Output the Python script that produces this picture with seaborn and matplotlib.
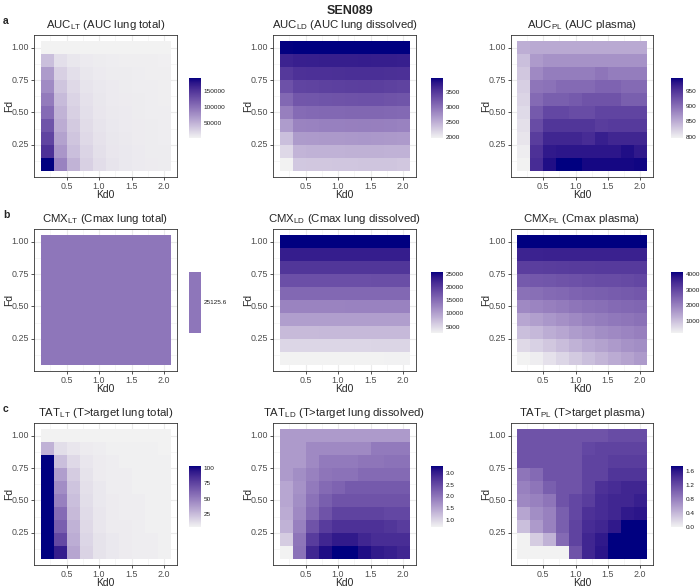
import numpy as np
import matplotlib
matplotlib.use("Agg")
import matplotlib.pyplot as plt
import seaborn as sns
from matplotlib.colors import ListedColormap, to_rgb
from matplotlib.ticker import FixedLocator, FormatStrFormatter

# ---------------- data (rows: Fd 0.1 -> 1.0, columns: Kd0 0.2 -> 2.0) ----------------
kd0 = [0.2, 0.4, 0.6, 0.8, 1.0, 1.2, 1.4, 1.6, 1.8, 2.0]
fd = [0.1, 0.2, 0.3, 0.4, 0.5, 0.6, 0.7, 0.8, 0.9, 1.0]

auc_lt = [
    [190000, 86000, 49000, 28000, 18000, 13000, 10500, 9000, 8000, 7200],
    [152000, 71000, 40000, 25000, 16000, 12000, 10000, 8500, 7600, 7000],
    [137000, 62000, 36000, 21000, 14500, 11000, 9500, 8000, 7300, 6800],
    [124000, 54000, 32000, 19000, 13000, 10000, 9000, 7800, 7000, 6500],
    [105000, 49000, 28000, 17000, 12000, 9500, 8500, 7500, 6800, 6300],
    [92000, 43000, 25000, 15000, 11000, 9000, 8000, 7000, 6500, 6100],
    [80000, 36000, 21000, 13000, 10000, 8500, 7500, 6800, 6300, 5900],
    [67000, 28000, 17000, 11000, 9000, 7500, 7000, 6500, 6000, 5700],
    [40000, 17000, 11000, 9000, 7500, 6500, 6000, 6000, 5500, 5400],
    [2500, 2500, 2500, 2500, 2500, 2500, 2500, 2500, 2500, 2500],
]
auc_ld = [
    [1955, 2290, 2300, 2300, 2305, 2305, 2310, 2310, 2310, 2300],
    [2160, 2450, 2460, 2460, 2465, 2470, 2470, 2470, 2465, 2460],
    [2360, 2650, 2660, 2665, 2670, 2675, 2680, 2675, 2670, 2660],
    [2640, 2850, 2860, 2870, 2875, 2880, 2885, 2880, 2870, 2860],
    [2880, 3055, 3065, 3075, 3080, 3090, 3095, 3090, 3080, 3065],
    [3085, 3235, 3245, 3255, 3265, 3275, 3285, 3280, 3265, 3250],
    [3285, 3400, 3410, 3420, 3430, 3440, 3445, 3440, 3425, 3410],
    [3490, 3565, 3570, 3575, 3580, 3585, 3590, 3585, 3580, 3570],
    [3690, 3725, 3730, 3735, 3740, 3740, 3745, 3740, 3735, 3730],
    [3960, 3970, 3970, 3970, 3970, 3970, 3970, 3970, 3970, 3970],
]
auc_pl = [
    [796, 956, 981, 991, 991, 985, 985, 985, 985, 987],
    [800, 952, 972, 975, 975, 975, 975, 975, 981, 972],
    [806, 942, 962, 962, 962, 956, 968, 962, 962, 962],
    [810, 929, 948, 948, 948, 948, 942, 944, 944, 944],
    [815, 917, 933, 933, 929, 929, 936, 936, 936, 936],
    [819, 903, 913, 913, 917, 923, 923, 923, 913, 913],
    [823, 894, 897, 903, 903, 903, 909, 909, 903, 903],
    [829, 878, 888, 888, 888, 888, 894, 888, 888, 888],
    [835, 864, 870, 870, 870, 870, 870, 870, 870, 870],
    [848, 852, 852, 852, 852, 852, 852, 852, 852, 852],
]
cmx_lt_value = 25125.6
cmx_ld = [
    [2567, 2570, 2580, 2590, 2600, 2610, 2630, 2650, 2680, 2700],
    [5130, 5135, 5140, 5150, 5160, 5170, 5180, 5190, 5200, 5210],
    [7700, 7705, 7710, 7715, 7720, 7730, 7740, 7750, 7760, 7770],
    [10270, 10275, 10280, 10285, 10290, 10295, 10300, 10305, 10310, 10315],
    [12840, 12840, 12845, 12850, 12855, 12860, 12865, 12870, 12875, 12880],
    [15400, 15400, 15405, 15410, 15415, 15420, 15425, 15430, 15435, 15440],
    [17970, 17970, 17975, 17980, 17985, 17990, 17995, 18000, 18005, 18010],
    [20540, 20540, 20545, 20550, 20555, 20560, 20565, 20570, 20575, 20580],
    [23100, 23100, 23105, 23110, 23115, 23120, 23125, 23130, 23135, 23140],
    [25670, 25670, 25670, 25670, 25670, 25670, 25670, 25670, 25670, 25670],
]
cmx_pl = [
    [200, 280, 475, 635, 830, 990, 1150, 1305, 1425, 1580],
    [595, 715, 870, 1030, 1190, 1345, 1465, 1580, 1700, 1780],
    [990, 1110, 1265, 1385, 1545, 1660, 1780, 1860, 1940, 2015],
    [1385, 1505, 1620, 1740, 1860, 1980, 2055, 2135, 2175, 2255],
    [1860, 1940, 2015, 2095, 2175, 2255, 2295, 2375, 2410, 2450],
    [2255, 2295, 2375, 2410, 2490, 2530, 2570, 2610, 2650, 2690],
    [2650, 2690, 2730, 2770, 2805, 2845, 2885, 2885, 2925, 2965],
    [3125, 3140, 3160, 3170, 3180, 3190, 3200, 3200, 3200, 3200],
    [3600, 3620, 3630, 3635, 3635, 3640, 3640, 3640, 3640, 3640],
    [4150, 4150, 4150, 4150, 4150, 4150, 4150, 4150, 4150, 4150],
]
tat_lt = [
    [103, 92, 34, 16, 10, 8, 7, 6, 6, 5],
    [103, 73, 31, 15, 10, 8, 7, 6, 6, 5],
    [103, 63, 29, 14, 9, 7, 7, 6, 5, 5],
    [103, 58, 26, 13, 9, 7, 6, 6, 5, 5],
    [103, 49, 24, 12, 8, 7, 6, 6, 5, 5],
    [103, 44, 22, 11, 8, 6, 6, 5, 5, 5],
    [103, 37, 19, 10, 7, 6, 6, 5, 5, 5],
    [103, 24, 14, 9, 7, 6, 5, 5, 5, 5],
    [29, 12, 9, 7, 6, 5, 5, 5, 5, 4],
    [4, 4, 4, 4, 4, 4, 4, 4, 4, 4],
]
tat_ld = [
    [0.70, 2.05, 2.91, 3.17, 3.30, 3.30, 3.17, 3.04, 2.99, 2.91],
    [1.09, 2.00, 2.65, 2.91, 3.04, 3.04, 2.91, 2.83, 2.83, 2.83],
    [1.35, 1.87, 2.39, 2.65, 2.78, 2.78, 2.78, 2.78, 2.73, 2.65],
    [1.43, 1.79, 2.13, 2.39, 2.57, 2.57, 2.57, 2.57, 2.52, 2.52],
    [1.48, 1.74, 2.05, 2.26, 2.39, 2.39, 2.39, 2.39, 2.39, 2.39],
    [1.48, 1.69, 1.95, 2.13, 2.21, 2.31, 2.31, 2.31, 2.31, 2.31],
    [1.61, 1.74, 1.87, 2.00, 2.05, 2.05, 2.13, 2.13, 2.13, 2.13],
    [1.61, 1.61, 1.79, 1.95, 1.95, 1.95, 2.00, 2.00, 2.05, 2.05],
    [1.61, 1.61, 1.79, 1.79, 1.79, 1.79, 1.79, 1.95, 1.95, 1.95],
    [1.61, 1.61, 1.61, 1.61, 1.61, 1.61, 1.61, 1.61, 1.61, 1.61],
]
tat_pl = [
    [0.00, 0.00, 0.00, 0.00, 1.14, 1.49, 1.61, 1.75, 1.75, 1.75],
    [0.00, 0.26, 0.44, 0.96, 1.26, 1.49, 1.58, 1.75, 1.75, 1.75],
    [0.35, 0.61, 0.79, 1.05, 1.26, 1.44, 1.49, 1.58, 1.75, 1.75],
    [0.53, 0.70, 0.79, 1.05, 1.23, 1.40, 1.44, 1.49, 1.58, 1.61],
    [0.74, 0.79, 0.88, 1.14, 1.23, 1.31, 1.44, 1.49, 1.49, 1.54],
    [0.79, 0.88, 1.05, 1.14, 1.14, 1.26, 1.40, 1.44, 1.49, 1.49],
    [0.88, 0.96, 1.14, 1.14, 1.14, 1.26, 1.26, 1.37, 1.37, 1.37],
    [1.14, 1.14, 1.14, 1.14, 1.14, 1.26, 1.26, 1.31, 1.31, 1.31],
    [1.14, 1.14, 1.14, 1.14, 1.14, 1.23, 1.26, 1.26, 1.26, 1.26],
    [1.14, 1.14, 1.14, 1.14, 1.14, 1.14, 1.14, 1.19, 1.19, 1.19],
]

panel_titles = [
    [("AUC", "LT", "(AUC lung total)"), ("AUC", "LD", "(AUC lung dissolved)"), ("AUC", "PL", "(AUC plasma)")],
    [("CMX", "LT", "(Cmax lung total)"), ("CMX", "LD", "(Cmax lung dissolved)"), ("CMX", "PL", "(Cmax plasma)")],
    [("TAT", "LT", "(T>target lung total)"), ("TAT", "LD", "(T>target lung dissolved)"), ("TAT", "PL", "(T>target plasma)")],
]
cbar_ticks = [
    [[50000, 100000, 150000], [2000, 2500, 3000, 3500], [800, 850, 900, 950]],
    [[cmx_lt_value], [5000, 10000, 15000, 20000, 25000], [1000, 2000, 3000, 4000]],
    [[25, 50, 75, 100], [1.0, 1.5, 2.0, 2.5, 3.0], [0.0, 0.4, 0.8, 1.2, 1.6]],
]
cbar_fmt = [
    ["%d", "%d", "%d"],
    ["%.1f", "%d", "%d"],
    ["%d", "%.1f", "%.1f"],
]
xticks = [0.5, 1.0, 1.5, 2.0]
yticks = [0.25, 0.50, 0.75, 1.00]

# ---------------- colour scale (Lab interpolation grey95 -> navy) ----------------
def srgb_to_lab(c):
    c = np.asarray(c, float)
    lin = np.where(c <= 0.04045, c / 12.92, ((c + 0.055) / 1.055) ** 2.4)
    M = np.array([[0.4124, 0.3576, 0.1805], [0.2126, 0.7152, 0.0722], [0.0193, 0.1192, 0.9505]])
    xyz = M @ lin / np.array([0.95047, 1.0, 1.08883])
    f = np.where(xyz > 0.008856, np.cbrt(xyz), 7.787 * xyz + 16 / 116)
    return np.array([116 * f[1] - 16, 500 * (f[0] - f[1]), 200 * (f[1] - f[2])])

def lab_to_srgb(lab):
    L, a, b = lab
    fy_ = (L + 16) / 116
    fx_ = fy_ + a / 500
    fz_ = fy_ - b / 200
    f = np.array([fx_, fy_, fz_])
    xyz = np.where(f ** 3 > 0.008856, f ** 3, (f - 16 / 116) / 7.787) * np.array([0.95047, 1.0, 1.08883])
    Minv = np.array([[3.2406, -1.5372, -0.4986], [-0.9689, 1.8758, 0.0415], [0.0557, -0.2040, 1.0570]])
    lin = Minv @ xyz
    c = np.where(lin <= 0.0031308, 12.92 * lin, 1.055 * np.clip(lin, 0, None) ** (1 / 2.4) - 0.055)
    return np.clip(c, 0, 1)

lab_lo = srgb_to_lab(to_rgb("#F2F2F2"))
lab_hi = srgb_to_lab(to_rgb("#000080"))
cols = [lab_to_srgb(lab_lo + t * (lab_hi - lab_lo)) for t in np.linspace(0, 1, 256)]
cmap = ListedColormap(cols)
mid_cmap = ListedColormap([lab_to_srgb(lab_lo + 0.5 * (lab_hi - lab_lo))])

# ---------------- figure ----------------
sns.set_style("white")
plt.rcParams["font.family"] = ["Liberation Sans", "DejaVu Sans"]
plt.rcParams["mathtext.fontset"] = "custom"
plt.rcParams["mathtext.rm"] = "Liberation Sans"
plt.rcParams["mathtext.it"] = "Liberation Sans:italic"

W, H = 700, 588
fig = plt.figure(figsize=(W / 100, H / 100), dpi=100)

def fx(px):
    return px / W

def fy(py):
    return 1 - py / H

panel_x = [(34, 177), (273, 416), (511, 653)]
panel_y = [(35, 177), (229, 371), (423, 565)]
cbar_x = [(189, 201), (431, 443), (671, 683)]
cbar_y = [(78, 138), (272, 333), (466, 527)]

datasets = [
    [auc_lt, auc_ld, auc_pl],
    [None, cmx_ld, cmx_pl],
    [tat_lt, tat_ld, tat_pl],
]

def cell(v, step):
    return v / step - 0.5

for r in range(3):
    for c in range(3):
        x0, x1 = panel_x[c]
        y0, y1 = panel_y[r]
        pw, ph = x1 - x0, y1 - y0
        ax = fig.add_axes([fx(x0), fy(y1), fx(pw), ph / H])
        cx0, cx1 = cbar_x[c]
        cy0, cy1 = cbar_y[r]
        cax = fig.add_axes([fx(cx0), fy(cy1), fx(cx1 - cx0), (cy1 - cy0) / H])

        if datasets[r][c] is None:
            data = np.full((len(fd), len(kd0)), cmx_lt_value)
            cm = mid_cmap
            vmin, vmax = cmx_lt_value - 0.5, cmx_lt_value + 0.5
        else:
            data = np.array(datasets[r][c], float)
            cm = cmap
            vmin, vmax = data.min(), data.max()

        sns.heatmap(data, ax=ax, cmap=cm, vmin=vmin, vmax=vmax, cbar=True, cbar_ax=cax,
                    cbar_kws={"ticks": cbar_ticks[r][c]}, linewidths=0)

        ax.set_xlim(cell(0.0, 0.2), cell(2.2, 0.2))
        ax.set_ylim(cell(0.0, 0.1), cell(1.1, 0.1))
        ax.set_xticks([cell(v, 0.2) for v in xticks])
        ax.set_xticklabels(["%.1f" % v for v in xticks])
        ax.set_yticks([cell(v, 0.1) for v in yticks])
        ax.set_yticklabels(["%.2f" % v for v in yticks])
        ax.xaxis.set_minor_locator(FixedLocator([cell(v, 0.2) for v in [0.25, 0.75, 1.25, 1.75]]))
        ax.yaxis.set_minor_locator(FixedLocator([cell(v, 0.1) for v in [0.125, 0.375, 0.625, 0.875]]))
        ax.set_axisbelow(True)
        ax.grid(True, which="major", color="#EBEBEB", linewidth=0.8, zorder=0)
        ax.grid(True, which="minor", color="#F3F3F3", linewidth=0.5, zorder=0)
        ax.tick_params(axis="both", which="major", labelsize=6.4, length=2.5, width=0.6,
                       color="#333333", labelcolor="#4D4D4D", pad=1.0,
                       left=True, bottom=True, labelrotation=0)
        ax.tick_params(axis="both", which="minor", length=0)
        for s in ax.spines.values():
            s.set_visible(True)
            s.set_color("#333333")
            s.set_linewidth(0.6)
        ax.set_xlabel("Kd0", fontsize=7.5)
        ax.set_ylabel("Fd", fontsize=7.5)
        ax.xaxis.set_label_coords(0.5, -21.5 / ph)
        ax.yaxis.set_label_coords(-25.0 / pw, 0.5)
        ax.xaxis.label.set_va("baseline")
        ax.yaxis.label.set_va("center")

        cb = ax.collections[0].colorbar
        cb.outline.set_visible(False)
        cax.yaxis.set_major_formatter(FormatStrFormatter(cbar_fmt[r][c]))
        cax.yaxis.set_ticks_position("both")
        cax.tick_params(labelsize=4.6, length=2, width=0.5, color="white", direction="in",
                        pad=2, labelcolor="#1A1A1A")
        cax.tick_params(labelleft=False, labelright=True)

        base, sub, rest = panel_titles[r][c]
        fig.text(fx((x0 + x1) / 2), fy(y0 - 10), base + r"$_{\mathrm{" + sub + "}}$ " + rest,
                 ha="center", va="center", fontsize=8.2)

fig.text(fx(350), fy(11), "SEN089", ha="center", va="center", fontsize=9, fontweight="bold")
for lab, yy in zip(["a", "b", "c"], [21, 215, 409]):
    fig.text(fx(3), fy(yy), lab, ha="left", va="center", fontsize=7.5, fontweight="bold")

fig.savefig("out.png", dpi=100)
